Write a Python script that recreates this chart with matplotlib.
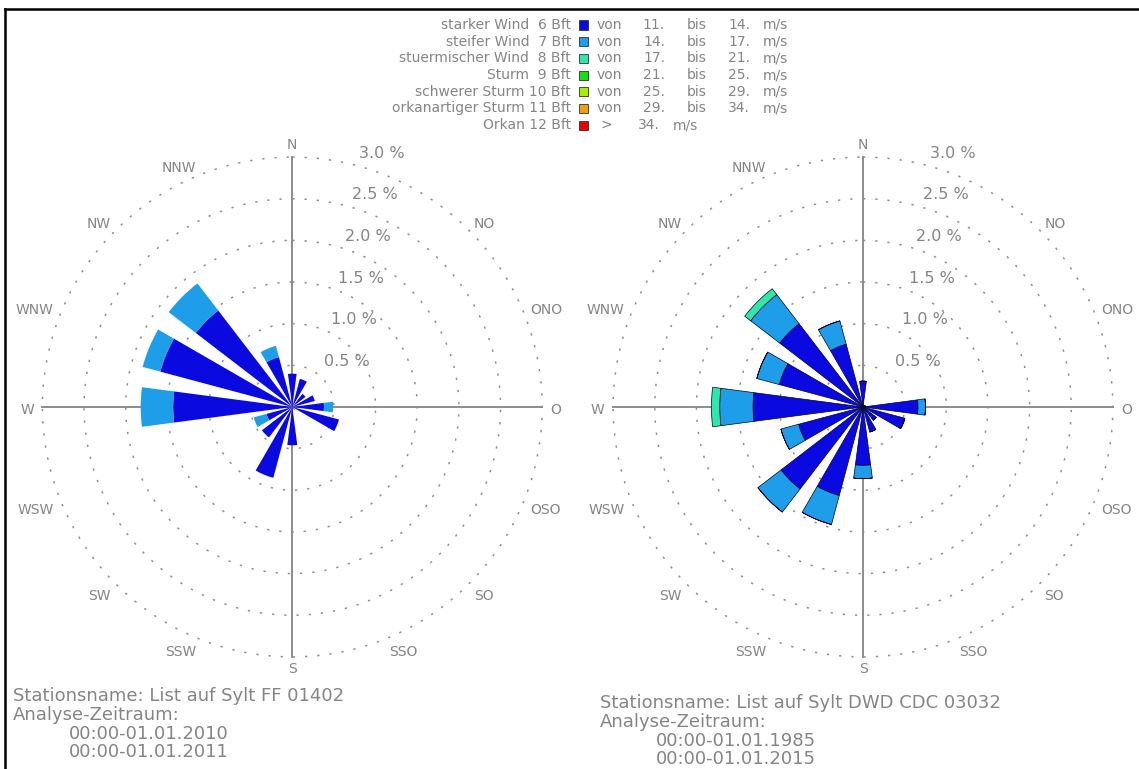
import numpy as np
import matplotlib
matplotlib.use('Agg')
import matplotlib.pyplot as plt
from matplotlib.lines import Line2D
from matplotlib.patches import Rectangle

W, H = 1139, 769

directions = ['N', 'NNO', 'NO', 'ONO', 'O', 'OSO', 'SO', 'SSO',
              'S', 'SSW', 'SW', 'WSW', 'W', 'WNW', 'NW', 'NNW']
hidden_labels = ['NNO']
ring_values = [0.5, 1.0, 1.5, 2.0, 2.5, 3.0]

class_names = ['starker Wind', 'steifer Wind', 'stuermischer Wind', 'Sturm',
               'schwerer Sturm', 'orkanartiger Sturm', 'Orkan']
class_bft = [6, 7, 8, 9, 10, 11, 12]
class_from = ['11.', '14.', '17.', '21.', '25.', '29.', '34.']
class_to = ['14.', '17.', '21.', '25.', '29.', '34.', '']
class_colors = ['#0a0ae0', '#1e9ee8', '#2de8a6', '#14e014',
                '#a6f000', '#f0a010', '#e60000']

# Haeufigkeit in % je Richtung, nur 6-8 Bft kommen vor
bft6_left = [0.40, 0.35, 0.20, 0.28, 0.38, 0.58, 0.04, 0.03,
             0.46, 0.88, 0.46, 0.32, 1.43, 1.64, 1.46, 0.62]
bft7_left = [0.0, 0.0, 0.0, 0.0, 0.11, 0.0, 0.0, 0.0,
             0.0, 0.0, 0.0, 0.16, 0.39, 0.22, 0.41, 0.14]

bft6_right = [0.31, 0.02, 0.02, 0.03, 0.66, 0.52, 0.20, 0.31,
              0.70, 1.10, 1.24, 0.80, 1.32, 1.04, 1.26, 0.78]
bft7_right = [0.0, 0.0, 0.0, 0.0, 0.09, 0.0, 0.0, 0.0,
              0.16, 0.36, 0.35, 0.22, 0.40, 0.28, 0.44, 0.29]
bft8_right = [0.0, 0.0, 0.0, 0.0, 0.0, 0.0, 0.0, 0.0,
              0.0, 0.0, 0.0, 0.0, 0.10, 0.0, 0.09, 0.0]

left_station = ['Stationsname: List auf Sylt FF 01402', 'Analyse-Zeitraum:',
                '00:00-01.01.2010', '00:00-01.01.2011']
right_station = ['Stationsname: List auf Sylt DWD CDC 03032', 'Analyse-Zeitraum:',
                 '00:00-01.01.1985', '00:00-01.01.2015']

GRAY = '#858585'
R_MAX = 3.3
PX_PER_PCT = 83.3


def fx(x):
    return x / W


def fy(y):
    return 1 - y / H


def draw_rose(fig, cx, cy, series, edge):
    half = R_MAX * PX_PER_PCT
    ax = fig.add_axes([fx(cx - half), fy(cy + half), 2 * half / W, 2 * half / H],
                      projection='polar')
    ax.set_theta_zero_location('N')
    ax.set_theta_direction(-1)
    ax.set_ylim(0, R_MAX)
    ax.axis('off')

    theta = np.deg2rad(np.arange(len(directions)) * 22.5)
    bottom = np.zeros(len(directions))
    for values, color in zip(series, class_colors):
        values = np.array(values)
        ax.bar(theta, values, width=np.deg2rad(15), bottom=bottom, color=color,
               edgecolor=edge if edge else color, linewidth=0.5 if edge else 0,
               zorder=3)
        bottom += values

    circle = np.linspace(0, 2 * np.pi, 500)
    for v in ring_values:
        ax.plot(circle, np.full_like(circle, v), color='#909090', lw=1.1,
                ls=(0, (1.5, 6.5)), zorder=1)
        x = (25 + 14 * v) / PX_PER_PCT
        y = v + 4 / PX_PER_PCT
        ax.text(np.arctan2(x, y), np.hypot(x, y), f'{v:.1f} %', color=GRAY,
                fontsize=11.5, ha='left', va='center')

    for a in (0, 90, 180, 270):
        t = np.deg2rad(a)
        ax.plot([t, t], [0, 3.0], color='#8c8c8c', lw=1.4, zorder=2)

    for i, name in enumerate(directions):
        if name in hidden_labels:
            continue
        s = np.sin(theta[i])
        if abs(s) < 1e-6:
            ha, dx, dy = 'center', 0, 0
        elif s > 0:
            ha, dx, dy = 'left', -4, -3
        else:
            ha, dx, dy = 'right', 4, -3
        ax.annotate(name, xy=(theta[i], 3.15), xytext=(dx, dy),
                    textcoords='offset pixels', color=GRAY, fontsize=10,
                    ha=ha, va='center')
    return ax


fig = plt.figure(figsize=(W / 100, H / 100), dpi=100)

draw_rose(fig, 292.3, 407, [bft6_left, bft7_left], None)
draw_rose(fig, 863, 407, [bft6_right, bft7_right, bft8_right], '#000030')

# Legende oben
for i, name in enumerate(class_names):
    y = 25 + i * 16.67
    fig.text(fx(571), fy(y), f'{name} {class_bft[i]:2d} Bft', color=GRAY,
             fontsize=10, ha='right', va='center')
    fig.add_artist(Rectangle((fx(578.5), fy(y + 4.5)), 9 / W, 9 / H,
                             transform=fig.transFigure, facecolor=class_colors[i],
                             edgecolor='#303030', lw=0.6))
    if class_to[i]:
        fig.text(fx(597), fy(y), 'von', color=GRAY, fontsize=10, va='center')
        fig.text(fx(665), fy(y), class_from[i], color=GRAY, fontsize=10,
                 ha='right', va='center')
        fig.text(fx(687), fy(y), 'bis', color=GRAY, fontsize=10, va='center')
        fig.text(fx(750), fy(y), class_to[i], color=GRAY, fontsize=10,
                 ha='right', va='center')
        fig.text(fx(763), fy(y), 'm/s', color=GRAY, fontsize=10, va='center')
    else:
        fig.text(fx(600), fy(y), '>', color=GRAY, fontsize=10, va='center')
        fig.text(fx(660), fy(y), class_from[i], color=GRAY, fontsize=10,
                 ha='right', va='center')
        fig.text(fx(673), fy(y), 'm/s', color=GRAY, fontsize=10, va='center')

# Stationsangaben unten
for lines, x0, y0 in ((left_station, 13, 696), (right_station, 600, 703)):
    for j, line in enumerate(lines):
        x = x0 if j < 2 else x0 + 56
        fig.text(fx(x), fy(y0 + j * 18.8), line, color=GRAY, fontsize=13,
                 ha='left', va='center')

# Rahmen oben und links
fig.add_artist(Line2D([fx(5), 1], [fy(9), fy(9)], color='black', lw=1.8,
                      transform=fig.transFigure))
fig.add_artist(Line2D([fx(5), fx(5)], [fy(9), 0], color='black', lw=1.8,
                      transform=fig.transFigure))

fig.savefig('out.png', dpi=100)
